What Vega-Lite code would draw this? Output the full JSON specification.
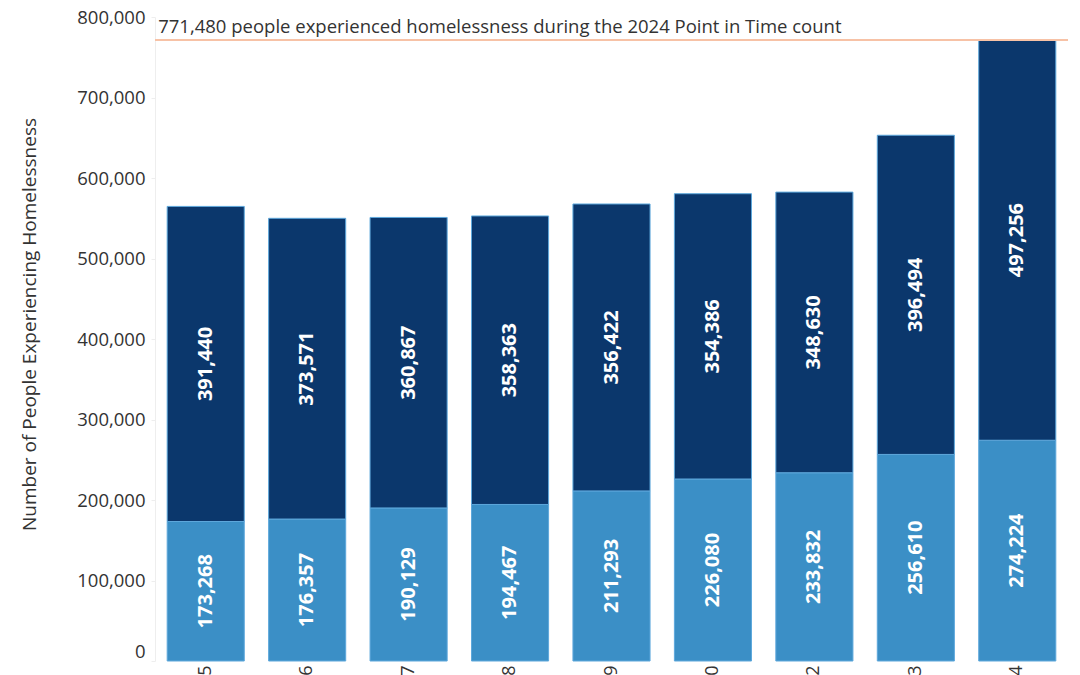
{
  "$schema": "https://vega.github.io/schema/vega-lite/v6.json",
  "autosize": "none",
  "width": 913,
  "height": 644,
  "padding": {"left": 155, "top": 17, "right": 12, "bottom": 14},
  "background": "white",
  "config": {
    "font": "Open Sans",
    "view": {"stroke": null},
    "axis": {"labelFont": "Open Sans", "titleFont": "Open Sans"}
  },
  "layer": [
    {
      "data": {
        "values": [
          {"year": "2015", "group": "Unsheltered", "ord": 1, "value": 173268},
          {"year": "2015", "group": "Sheltered", "ord": 2, "value": 391440},
          {"year": "2016", "group": "Unsheltered", "ord": 1, "value": 176357},
          {"year": "2016", "group": "Sheltered", "ord": 2, "value": 373571},
          {"year": "2017", "group": "Unsheltered", "ord": 1, "value": 190129},
          {"year": "2017", "group": "Sheltered", "ord": 2, "value": 360867},
          {"year": "2018", "group": "Unsheltered", "ord": 1, "value": 194467},
          {"year": "2018", "group": "Sheltered", "ord": 2, "value": 358363},
          {"year": "2019", "group": "Unsheltered", "ord": 1, "value": 211293},
          {"year": "2019", "group": "Sheltered", "ord": 2, "value": 356422},
          {"year": "2020", "group": "Unsheltered", "ord": 1, "value": 226080},
          {"year": "2020", "group": "Sheltered", "ord": 2, "value": 354386},
          {"year": "2022", "group": "Unsheltered", "ord": 1, "value": 233832},
          {"year": "2022", "group": "Sheltered", "ord": 2, "value": 348630},
          {"year": "2023", "group": "Unsheltered", "ord": 1, "value": 256610},
          {"year": "2023", "group": "Sheltered", "ord": 2, "value": 396494},
          {"year": "2024", "group": "Unsheltered", "ord": 1, "value": 274224},
          {"year": "2024", "group": "Sheltered", "ord": 2, "value": 497256}
        ]
      },
      "transform": [
        {"stack": "value", "groupby": ["year"], "sort": [{"field": "ord", "order": "ascending"}], "as": ["y0", "y1"]}
      ],
      "layer": [
        {
          "mark": {"type": "bar", "stroke": "#5ea8dc", "strokeWidth": 1},
          "encoding": {
            "x": {
              "field": "year", "type": "nominal", "sort": null,
              "scale": {"paddingInner": 0.24, "paddingOuter": 0.12},
              "axis": {
                "title": null, "labelAngle": -90, "labelFontSize": 18, "labelColor": "#333333",
                "labelPadding": 4, "ticks": false, "domain": false, "grid": false
              }
            },
            "y": {
              "field": "y0", "type": "quantitative",
              "scale": {"domain": [0, 800000], "nice": false},
              "axis": {
                "title": "Number of People Experiencing Homelessness",
                "titleFontSize": 19, "titleFontWeight": "normal", "titleColor": "#333333", "titlePadding": 37,
                "titleY": 307,
                "values": [0, 100000, 200000, 300000, 400000, 500000, 600000, 700000, 800000],
                "format": ",d", "labelFontSize": 18.5, "labelColor": "#333333", "labelPadding": 6,
                "labelBaseline": {"condition": {"test": "datum.value == 0", "value": "bottom"}, "value": "middle"},
                "tickColor": "#eeeeee", "tickSize": 4, "domainColor": "#eeeeee", "grid": false
              }
            },
            "y2": {"field": "y1"},
            "color": {
              "field": "group", "type": "nominal",
              "scale": {"domain": ["Unsheltered", "Sheltered"], "range": ["#3b8fc6", "#0b376c"]},
              "legend": null
            }
          }
        },
        {
          "transform": [
            {"fold": ["y0", "y1"], "as": ["edge", "pos"]},
            {"aggregate": [{"op": "mean", "field": "pos", "as": "mid"}], "groupby": ["year", "group", "value"]}
          ],
          "mark": {"type": "text", "angle": 270, "color": "white", "fontWeight": "bold", "fontSize": 20, "align": "center", "baseline": "middle"},
          "encoding": {
            "x": {"field": "year", "type": "nominal", "sort": null},
            "y": {"field": "mid", "type": "quantitative"},
            "text": {"field": "value", "type": "quantitative", "format": ","}
          }
        }
      ]
    },
    {
      "data": {"values": [{"v": 771480, "label": "771,480 people experienced homelessness during the 2024 Point in Time count"}]},
      "layer": [
        {
          "mark": {"type": "rule", "color": "#f7c2a6", "strokeWidth": 2},
          "encoding": {"y": {"field": "v", "type": "quantitative"}}
        },
        {
          "mark": {"type": "text", "align": "left", "baseline": "bottom", "dy": -3, "dx": -9, "fontSize": 18.5, "color": "#333333"},
          "encoding": {
            "x": {"datum": "2015", "bandPosition": 0},
            "y": {"field": "v", "type": "quantitative"},
            "text": {"field": "label"}
          }
        }
      ]
    }
  ]
}
